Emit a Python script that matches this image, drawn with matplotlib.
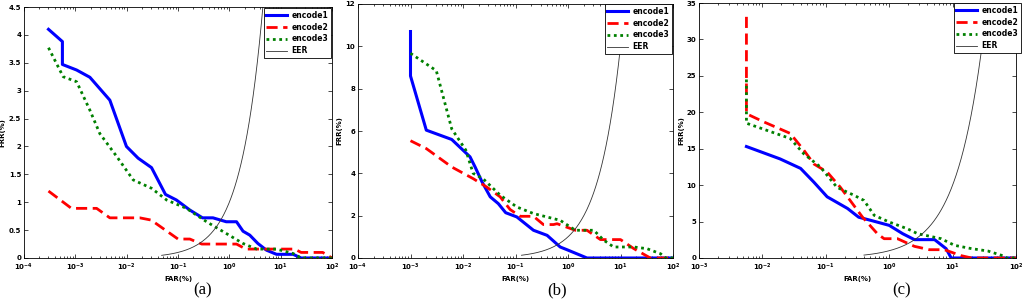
import numpy as np
import matplotlib
matplotlib.use('Agg')
import matplotlib.pyplot as plt
from matplotlib.ticker import LogLocator, NullFormatter, LogFormatterSciNotation

# panel (a)
a_far1 = [3e-4, 5.6e-4, 5.6e-4, 1.06e-3, 1.92e-3, 4.7e-3, 9.9e-3, 1.67e-2, 3.05e-2, 5.7e-2, 9.3e-2,
          0.17, 0.30, 0.48, 0.87, 1.38, 1.85, 2.5, 3.6, 5.3, 8.3, 17.5, 25, 100]
a_frr1 = [4.10, 3.88, 3.47, 3.37, 3.24, 2.83, 2.0, 1.79, 1.62, 1.14, 1.04,
          0.86, 0.72, 0.72, 0.65, 0.65, 0.48, 0.41, 0.26, 0.14, 0.066, 0.066, 0, 0]
a_far2 = [3e-4, 8.4e-4, 2.6e-3, 4.7e-3, 1.8e-2, 3.0e-2, 0.1, 0.17, 0.29, 1.38, 2.1, 18.7, 25, 66, 100]
a_frr2 = [1.20, 0.89, 0.89, 0.72, 0.72, 0.68, 0.34, 0.34, 0.25, 0.25, 0.16, 0.16, 0.10, 0.10, 0]
a_far3 = [3e-4, 5.8e-4, 1.06e-3, 1.92e-3, 3.0e-3, 6.4e-3, 1.34e-2, 3.05e-2, 6.0e-2, 0.146, 0.36,
          0.87, 1.85, 3.4, 8.3, 17.5, 25, 100]
a_frr3 = [3.77, 3.25, 3.16, 2.65, 2.23, 1.82, 1.40, 1.25, 1.04, 0.89, 0.65,
          0.44, 0.26, 0.16, 0.16, 0.08, 0, 0]

# panel (b)
b_far1 = [1.0e-3, 1.0e-3, 2.0e-3, 6.1e-3, 1.36e-2, 1.7e-2, 2.3e-2, 3.3e-2, 4.7e-2, 6.5e-2, 0.106,
          0.22, 0.40, 0.71, 0.96, 2.3, 100]
b_frr1 = [10.7, 8.6, 6.04, 5.6, 4.78, 4.3, 3.6, 2.89, 2.57, 2.14, 1.94,
          1.31, 1.07, 0.52, 0.39, 0, 0]
b_far2 = [1.0e-3, 2.0e-3, 6.1e-3, 1.56e-2, 2.8e-2, 5.1e-2, 7.9e-2, 0.123, 0.22, 0.34, 0.53,
          0.62, 1.38, 2.3, 4.15, 10, 18, 37, 100]
b_frr2 = [5.54, 5.17, 4.3, 3.75, 3.36, 2.89, 2.29, 1.97, 1.97, 1.58, 1.58,
          1.62, 1.31, 1.31, 0.87, 0.87, 0.44, 0, 0]
b_far3 = [1.0e-3, 3.1e-3, 6.1e-3, 1.13e-2, 1.56e-2, 2.4e-2, 5.1e-2, 0.106, 0.22, 0.71, 1.38,
          3.1, 4.8, 7.4, 18, 32, 58, 72, 100]
b_frr3 = [9.67, 8.85, 6.1, 5.1, 4.0, 3.75, 2.97, 2.41, 2.1, 1.78, 1.31,
          1.31, 0.84, 0.52, 0.52, 0.44, 0.2, 0, 0]

# panel (c)
c_far1 = [5.6e-3, 1.9e-2, 4.0e-2, 6.5e-2, 0.105, 0.22, 0.33, 0.51, 1.0, 1.63, 2.5,
          5.2, 7.9, 9.5, 100]
c_frr1 = [15.3, 13.6, 12.3, 10.4, 8.4, 6.8, 5.6, 5.17, 4.48, 3.34, 2.52,
          2.52, 1.28, 0, 0]
c_far2 = [5.6e-3, 5.6e-3, 1.04e-2, 2.75e-2, 4.5e-2, 6.5e-2, 0.105, 0.17, 0.38, 0.65, 0.83,
          1.35, 2.5, 4.3, 7.4, 13.7, 20, 100]
c_frr2 = [33.1, 19.8, 18.7, 17.1, 14.8, 12.9, 11.8, 9.7, 5.6, 3.34, 2.65,
          2.65, 1.6, 1.14, 1.14, 0.32, 0, 0]
c_far3 = [5.6e-3, 5.6e-3, 2.75e-2, 4.5e-2, 8.2e-2, 0.15, 0.28, 0.40, 0.58, 1.0, 1.95,
          2.8, 6.6, 10.7, 20, 36, 59, 71, 100]
c_frr3 = [24.5, 18.5, 16.4, 14.3, 12.5, 9.7, 8.6, 7.9, 5.86, 4.94, 4.0,
          3.34, 2.65, 1.74, 1.28, 0.96, 0.37, 0, 0]

# EER reference line FAR = FRR, start point per panel
eer_start = [0.048, 0.13, 0.4]

xlims = [(1e-4, 1e2), (1e-4, 1e2), (1e-3, 1e2)]
ylims = [(0, 4.5), (0, 12), (0, 35)]
ysteps = [0.5, 2, 5]
panel_names = ['(a)', '(b)', '(c)']
# axes boxes in pixels: left, right, top, bottom
boxes = [(24, 332, 7, 258), (358, 673, 4, 258), (699, 1016, 3, 258)]
legend_corner = [(331, 8), (672, 4), (1021, 3)]
ylabel_x = [5, 342, 684]
name_x = [203, 557, 902]

data = [(a_far1, a_frr1, a_far2, a_frr2, a_far3, a_frr3),
        (b_far1, b_frr1, b_far2, b_frr2, b_far3, b_frr3),
        (c_far1, c_frr1, c_far2, c_frr2, c_far3, c_frr3)]

W, H = 1022, 300
fig = plt.figure(figsize=(W / 100, H / 100), dpi=100)
small = dict(fontsize=5, fontweight='bold', family='DejaVu Sans')

for i in range(3):
    l, r, t, b = boxes[i]
    ax = fig.add_axes([l / W, 1 - b / H, (r - l) / W, (b - t) / H])
    f1, r1, f2, r2, f3, r3 = data[i]
    ax.plot(f1, r1, color='#0000ff', lw=2.2, label='encode1')
    ax.plot(f2, r2, color='#ff0000', lw=2.0, ls=(0, (4, 2)), label='encode2')
    ax.plot(f3, r3, color='#008000', lw=2.0, ls=(0, (1, 1.3)), label='encode3')
    eer = np.geomspace(eer_start[i], ylims[i][1], 200)
    ax.plot(eer, eer, color='#333333', lw=0.6, label='EER')
    ax.set_xscale('log')
    ax.set_xlim(*xlims[i])
    ax.set_ylim(*ylims[i])
    lo, hi = np.log10(xlims[i])
    ax.set_xticks(10.0 ** np.arange(lo, hi + 1))
    ax.xaxis.set_major_formatter(LogFormatterSciNotation())
    ax.set_yticks(np.arange(0, ylims[i][1] + 1e-9, ysteps[i]))
    ax.yaxis.set_major_formatter(plt.FuncFormatter(lambda v, p: f'{v:g}'))
    ax.xaxis.set_minor_locator(LogLocator(base=10, subs=np.arange(2, 10), numticks=20))
    ax.xaxis.set_minor_formatter(NullFormatter())
    ax.tick_params(which='both', direction='in', top=True, right=True, width=0.5)
    ax.tick_params(which='major', length=3)
    ax.tick_params(axis='x', which='major', pad=3)
    ax.tick_params(axis='y', which='major', pad=2)
    ax.tick_params(which='minor', length=1.5)
    for lab in ax.get_xticklabels() + ax.get_yticklabels():
        lab.set_fontsize(5)
        lab.set_fontweight('bold')
    for s in ax.spines.values():
        s.set_linewidth(0.6)
    ax.set_xlabel('FAR(%)', **small)
    ax.set_ylabel('FRR(%)', **small)
    ax.xaxis.set_label_coords(0.5, -18 / (b - t))
    ax.yaxis.set_label_coords((ylabel_x[i] - l) / (r - l), 0.5)
    lx, ly = legend_corner[i]
    leg = ax.legend(loc='upper right', bbox_to_anchor=(lx / W, 1 - ly / H),
                    bbox_transform=fig.transFigure, frameon=True, fancybox=False,
                    borderpad=0.35, labelspacing=0.38, handlelength=2.7, handletextpad=0.6,
                    borderaxespad=0.0, prop=dict(size=5.5, weight='bold'))
    leg.get_frame().set_edgecolor('black')
    leg.get_frame().set_linewidth(0.6)
    leg.get_frame().set_alpha(1)
    fig.text(name_x[i] / W, 1 - 290 / H, panel_names[i], ha='center', va='center',
             fontsize=12, family='Liberation Serif')

fig.savefig('out.png', dpi=100)
